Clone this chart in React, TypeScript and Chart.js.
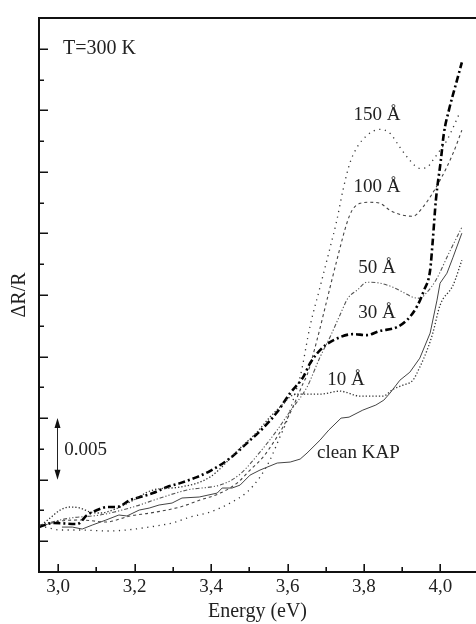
import React, { useEffect, useRef } from 'react';
import { Chart, registerables } from 'chart.js';

Chart.register(...registerables);

// ---- data (ΔR/R in units of 1e-3, energy in eV) ----
const kapE = [3.010, 3.037, 3.063, 3.089, 3.125, 3.159, 3.180, 3.212, 3.238, 3.264, 3.298, 3.324, 3.369, 3.416, 3.429, 3.455, 3.476, 3.502, 3.528, 3.573, 3.607, 3.633, 3.651, 3.685, 3.708, 3.740, 3.761, 3.797, 3.831, 3.852, 3.868, 3.894, 3.920, 3.946, 3.973, 3.991, 3.999, 4.017, 4.033, 4.056];
const kapV = [3.65, 3.65, 3.49, 3.81, 4.22, 4.63, 4.55, 5.03, 5.19, 5.44, 5.60, 6.01, 6.09, 6.41, 6.82, 6.82, 7.06, 7.87, 8.28, 8.85, 8.93, 9.17, 9.66, 10.71, 11.53, 12.50, 12.58, 13.15, 13.56, 13.96, 14.53, 15.58, 16.23, 17.37, 19.40, 22.08, 23.46, 24.27, 25.57, 27.52];

const a10E = [2.950, 2.979, 3.005, 3.031, 3.058, 3.084, 3.110, 3.149, 3.188, 3.248, 3.319, 3.397, 3.476, 3.520, 3.554, 3.580, 3.614, 3.633, 3.685, 3.737, 3.790, 3.850, 3.876, 3.902, 3.928, 3.946, 3.965, 3.980, 3.999, 4.033, 4.056];
const a10V = [3.65, 4.38, 5.03, 5.28, 5.19, 4.87, 4.79, 5.11, 5.68, 6.66, 6.90, 7.71, 10.06, 11.36, 12.58, 13.39, 14.37, 14.45, 14.45, 14.69, 14.29, 14.29, 14.85, 15.18, 15.58, 16.64, 18.02, 19.40, 21.67, 23.30, 25.32];

const a30E = [2.950, 2.987, 3.050, 3.076, 3.102, 3.128, 3.154, 3.188, 3.214, 3.248, 3.285, 3.319, 3.363, 3.397, 3.450, 3.494, 3.536, 3.573, 3.607, 3.641, 3.659, 3.693, 3.737, 3.771, 3.808, 3.839, 3.886, 3.912, 3.939, 3.957, 3.973, 3.980, 3.988, 4.001, 4.009, 4.022, 4.041, 4.056];
const a30V = [3.65, 3.98, 3.90, 4.63, 5.03, 5.28, 5.28, 5.84, 6.09, 6.41, 6.90, 7.22, 7.71, 8.20, 9.25, 10.47, 11.69, 12.99, 14.53, 15.83, 16.96, 18.26, 19.07, 19.32, 19.24, 19.56, 19.89, 20.45, 21.59, 22.89, 24.51, 26.95, 30.19, 33.44, 35.63, 37.50, 39.69, 41.40];

const a50E = [2.950, 3.031, 3.110, 3.196, 3.267, 3.337, 3.431, 3.476, 3.528, 3.573, 3.607, 3.651, 3.685, 3.711, 3.737, 3.758, 3.782, 3.808, 3.842, 3.876, 3.902, 3.928, 3.946, 3.965, 3.988, 4.022, 4.056];
const a50V = [3.81, 4.38, 4.63, 5.28, 6.01, 6.66, 7.14, 7.95, 9.74, 11.53, 13.07, 15.02, 17.45, 19.07, 20.86, 22.24, 22.89, 23.54, 23.46, 23.13, 22.73, 22.32, 22.24, 22.73, 23.70, 25.89, 28.00];

const a100E = [2.950, 3.005, 3.063, 3.125, 3.188, 3.241, 3.319, 3.371, 3.424, 3.468, 3.502, 3.536, 3.562, 3.588, 3.614, 3.641, 3.651, 3.677, 3.703, 3.729, 3.756, 3.769, 3.790, 3.816, 3.842, 3.868, 3.902, 3.928, 3.954, 3.999, 4.033, 4.056];
const a100V = [3.65, 4.14, 4.22, 4.06, 4.55, 4.79, 5.28, 5.84, 6.41, 7.22, 8.28, 9.33, 10.47, 11.77, 13.39, 15.34, 15.99, 18.83, 22.08, 25.32, 28.41, 29.38, 29.95, 30.03, 29.95, 29.38, 28.98, 28.90, 29.63, 31.82, 34.01, 35.88];

const a150E = [2.966, 3.005, 3.063, 3.125, 3.178, 3.238, 3.298, 3.345, 3.397, 3.450, 3.494, 3.528, 3.554, 3.580, 3.599, 3.620, 3.633, 3.659, 3.685, 3.711, 3.729, 3.745, 3.763, 3.782, 3.808, 3.842, 3.868, 3.894, 3.920, 3.946, 3.965, 3.980, 3.999, 4.017, 4.051];
const a150V = [3.65, 3.41, 3.41, 3.33, 3.41, 3.65, 3.98, 4.46, 4.87, 5.60, 6.49, 7.71, 9.09, 10.96, 12.34, 14.53, 15.83, 19.97, 23.13, 26.30, 28.57, 31.01, 33.20, 34.50, 35.47, 35.96, 35.63, 34.50, 33.44, 32.79, 32.87, 33.44, 34.25, 35.07, 37.34];

const xTickValues = [3.0, 3.1, 3.2, 3.3, 3.4, 3.5, 3.6, 3.7, 3.8, 3.9, 4.0];
const yTickValues = [2.5, 5, 7.5, 10, 12.5, 15, 17.5, 20, 22.5, 25, 27.5, 30, 32.5, 35, 37.5, 40, 42.5];

// in-plot annotations: text, energy, value, alignment
const noteTexts = ['T=300 K', '150 Å', '100 Å', '50 Å', '30 Å', '10 Å', 'clean KAP', '0.005'];
const noteE = [3.013, 3.834, 3.834, 3.834, 3.834, 3.753, 3.677, 3.016];
const noteV = [42.5, 37.1, 31.25, 24.7, 21.0, 15.6, 9.66, 9.9];
const noteAlign = ['left', 'center', 'center', 'center', 'center', 'center', 'left', 'left'];
const scaleBarE = 2.997;
const scaleBarFrom = 7.5;
const scaleBarTo = 12.5;

const SERIF = '"Liberation Serif", "Times New Roman", serif';

const framePlugin = {
  id: 'framePlugin',
  afterDraw(chart: any) {
    const { ctx, chartArea: a } = chart;
    const xs = chart.scales.x;
    const ys = chart.scales.y;
    ctx.save();
    ctx.strokeStyle = '#111';
    ctx.lineWidth = 2;
    ctx.lineJoin = 'miter';
    ctx.beginPath();
    ctx.moveTo(a.right + 2, a.top);
    ctx.lineTo(a.left, a.top);
    ctx.lineTo(a.left, a.bottom);
    ctx.lineTo(a.right + 2, a.bottom);
    ctx.stroke();

    ctx.lineWidth = 1.6;
    ctx.beginPath();
    xTickValues.forEach((v) => {
      const px = Math.round(xs.getPixelForValue(v)) + 0.2;
      const major = Math.round(v * 10) % 2 === 0;
      ctx.moveTo(px, a.bottom);
      ctx.lineTo(px, a.bottom - (major ? 8 : 5));
    });
    yTickValues.forEach((v) => {
      const py = Math.round(ys.getPixelForValue(v)) + 0.2;
      const major = Math.round(v / 2.5) % 2 === 1;
      ctx.moveTo(a.left, py);
      ctx.lineTo(a.left + (major ? 9 : 5), py);
    });
    ctx.stroke();

    // annotations
    ctx.fillStyle = '#222';
    ctx.font = '19px ' + SERIF;
    ctx.textBaseline = 'middle';
    noteTexts.forEach((t, i) => {
      ctx.textAlign = noteAlign[i] as CanvasTextAlign;
      const size = i === 0 ? 20 : 19;
      ctx.font = size + 'px ' + SERIF;
      ctx.fillText(t, xs.getPixelForValue(noteE[i]), ys.getPixelForValue(noteV[i]));
    });

    // scale bar with arrowheads
    const bx = Math.round(xs.getPixelForValue(scaleBarE)) + 0.5;
    const y1 = ys.getPixelForValue(scaleBarTo);
    const y2 = ys.getPixelForValue(scaleBarFrom);
    ctx.strokeStyle = '#222';
    ctx.lineWidth = 1;
    ctx.beginPath();
    ctx.moveTo(bx, y1 + 6);
    ctx.lineTo(bx, y2 - 6);
    ctx.stroke();
    ctx.fillStyle = '#111';
    ctx.beginPath();
    ctx.moveTo(bx, y1);
    ctx.lineTo(bx - 3, y1 + 10);
    ctx.lineTo(bx + 3, y1 + 10);
    ctx.closePath();
    ctx.moveTo(bx, y2);
    ctx.lineTo(bx - 3, y2 - 10);
    ctx.lineTo(bx + 3, y2 - 10);
    ctx.closePath();
    ctx.fill();
    ctx.restore();
  },
};

const zip = (xs: number[], ys: number[]) => xs.map((x, i) => ({ x, y: ys[i] }));

export default function App() {
  const ref = useRef<HTMLCanvasElement>(null);

  useEffect(() => {
    if (!ref.current) return;
    const common = { pointRadius: 0, fill: false, cubicInterpolationMode: 'monotone' as const };
    const chart = new Chart(ref.current, {
      type: 'line',
      data: {
        datasets: [
          { ...common, label: 'clean KAP', data: zip(kapE, kapV), borderColor: '#444', borderWidth: 1, cubicInterpolationMode: 'default', tension: 0 },
          { ...common, label: '10 Å', data: zip(a10E, a10V), borderColor: '#333', borderWidth: 1.3, borderDash: [1.3, 2] },
          { ...common, label: '30 Å', data: zip(a30E, a30V), borderColor: '#000', borderWidth: 2.6, borderDash: [7, 3, 2, 3] },
          { ...common, label: '50 Å', data: zip(a50E, a50V), borderColor: '#555', borderWidth: 1.1, borderDash: [4, 2, 1.2, 2, 1.2, 2] },
          { ...common, label: '100 Å', data: zip(a100E, a100V), borderColor: '#444', borderWidth: 1.1, borderDash: [3, 3] },
          { ...common, label: '150 Å', data: zip(a150E, a150V), borderColor: '#333', borderWidth: 1.3, borderDash: [1.2, 4.5] },
        ],
      },
      options: {
        responsive: false,
        animation: false,
        events: [],
        layout: { padding: { left: 0, top: 18, right: 0, bottom: 0 } },
        plugins: { legend: { display: false }, tooltip: { enabled: false } },
        scales: {
          x: {
            type: 'linear',
            min: 2.95,
            max: 4.093,
            grid: { display: false, drawTicks: false },
            border: { display: false },
            afterBuildTicks: (axis: any) => {
              axis.ticks = xTickValues.map((v) => ({ value: v }));
            },
            afterFit: (axis: any) => {
              axis.height = 52;
            },
            ticks: {
              padding: 4,
              color: '#222',
              font: { family: SERIF, size: 19 },
              maxRotation: 0,
              autoSkip: false,
              callback: (v: any) => {
                const n = Number(v);
                return Math.round(n * 10) % 2 === 0 ? n.toFixed(1).replace('.', ',') : '';
              },
            },
            title: {
              display: true,
              text: 'Energy (eV)',
              color: '#222',
              font: { family: SERIF, size: 20 },
              padding: { top: 0, bottom: 0 },
            },
          },
          y: {
            type: 'linear',
            min: 0,
            max: 45,
            grid: { display: false, drawTicks: false },
            border: { display: false },
            afterBuildTicks: (axis: any) => {
              axis.ticks = yTickValues.map((v) => ({ value: v }));
            },
            afterFit: (axis: any) => {
              axis.width = 39;
            },
            ticks: { display: false },
            title: {
              display: true,
              text: 'ΔR/R',
              color: '#222',
              font: { family: SERIF, size: 20 },
              padding: { top: 8, bottom: 0 },
            },
          },
        },
      },
      plugins: [framePlugin],
    });
    return () => chart.destroy();
  }, []);

  return (
    <div style={{ position: 'absolute', left: 0, top: 0, width: 476, height: 624, background: '#fff' }}>
      <canvas ref={ref} width={476} height={624} style={{ display: 'block' }} />
    </div>
  );
}
